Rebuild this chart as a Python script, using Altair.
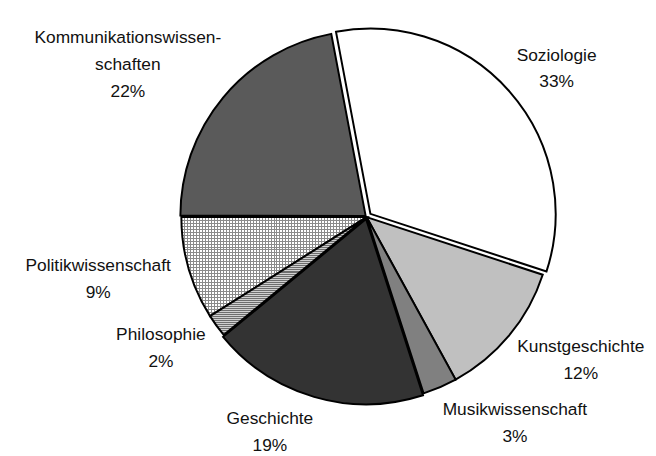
import math
import altair as alt
import pandas as pd

# ---- data ----
categories = ["Soziologie", "Kunstgeschichte", "Musikwissenschaft", "Geschichte",
              "Philosophie", "Politikwissenschaft", "Kommunikationswissenschaften"]
label_names = ["Soziologie", "Kunstgeschichte", "Musikwissenschaft", "Geschichte",
               "Philosophie", "Politikwissenschaft", "Kommunikationswissen-\nschaften"]
shares = [33, 12, 3, 19, 2, 9, 22]

# ---- styling ----
fills = ["#ffffff", "#c0c0c0", "#808080", "#333333", "#a8a8a8", "#dedede", "#5a5a5a"]
START = math.radians(-10.7)
CX, CY, R = 362, 209, 187
LABEL_RX, LABEL_RY = 200, 205
FONT = "Liberation Sans"
LH = 27


def stripes(pitch, extent, ink, paper, duty, horizontal):
    """Hard-edged stripe gradient (pitch in px over the slice's box) used as a hatch."""
    n = extent / pitch
    stops = []
    i = 0
    while i < n:
        a = i / n
        b = min((i + duty) / n, 1.0)
        c = min((i + 1) / n, 1.0)
        stops += [{"offset": a, "color": ink}, {"offset": b, "color": ink},
                  {"offset": b, "color": paper}, {"offset": c, "color": paper}]
        i += 1
    return {"gradient": "linear", "x1": 0, "y1": 0, "x2": 0 if horizontal else 1,
            "y2": 1 if horizontal else 0, "stops": stops}


df = pd.DataFrame({"category": categories, "label": label_names,
                   "share": shares, "order": list(range(len(shares)))})

base = alt.Chart(df).transform_window(
    cum="sum(share)", sort=[alt.SortField("order")], frame=[None, 0]
).transform_calculate(start="datum.cum - datum.share")

theta_scale = alt.Scale(domain=[0, 100], range=[START, START + 2 * math.pi])
color = alt.Color("category:N", scale=alt.Scale(domain=categories, range=fills), legend=None)


def slices(cats, dx=0.0, dy=0.0, fill=None, stroke=True):
    props = dict(radius=R, strokeJoin="miter")
    if stroke:
        props.update(stroke="black", strokeWidth=2)
    if fill is not None:
        props["fill"] = fill
    enc = dict(
        theta=alt.Theta("start:Q", scale=theta_scale),
        theta2="cum:Q",
        x=alt.value(CX + dx),
        y=alt.value(CY + dy),
    )
    if fill is None:
        enc["color"] = color
    return base.transform_filter(
        alt.FieldOneOfPredicate(field="category", oneOf=cats)
    ).mark_arc(**props).encode(**enc)


plain = slices(["Kunstgeschichte", "Musikwissenschaft"])
politik_v = slices(["Politikwissenschaft"],
                   fill=stripes(3, 187, "#8a8a8a", "#ffffff", 0.34, False), stroke=False)
politik_h = slices(["Politikwissenschaft"],
                   fill=stripes(3, 100.3, "#8a8a8a", "rgba(255,255,255,0)", 0.34, True))
philo = slices(["Philosophie"], fill=stripes(2, 119.2, "#6e6e6e", "#d0d0d0", 0.5, True))
komm = slices(["Kommunikationswissenschaften"], -1.0, -1.25)
gesch = slices(["Geschichte"], -0.6, 1.9)
sozio = slices(["Soziologie"], 3.8, -3.3)

labels = base.transform_calculate(
    mid=f"{START} + (datum.cum - datum.share / 2) / 100 * 2 * PI",
    nl="length(split(datum.label, '\\n')) + 1",
    w="length(split(datum.label, '\\n')[0]) * 8.3",
    h=f"(datum.nl - 1) * {LH} + 16",
    tx=f"{CX} + sin(datum.mid) * {LABEL_RX} + (sin(datum.mid) < 0 ? -1 : 1) * datum.w / 2",
    ty=f"{CY} - cos(datum.mid) * ({LABEL_RY} + datum.h / 2) - (datum.nl - 1) * {LH} / 2",
    txt="datum.label + '\\n' + datum.share + '%'",
).mark_text(
    font=FONT, fontSize=17.5, color="#111111", lineBreak="\n", lineHeight=LH,
    align="center", baseline="middle",
).encode(
    x=alt.X("tx:Q", scale=None),
    y=alt.Y("ty:Q", scale=None),
    text="txt:N",
)

chart = alt.layer(plain, politik_v, politik_h, philo, gesch, komm, sozio, labels).properties(
    width=646, height=446, padding=0, autosize=alt.AutoSizeParams(type="none"),
    background="white",
).configure_view(stroke=None)

chart.save("out.html", embed_options={"renderer": "svg", "actions": False})
